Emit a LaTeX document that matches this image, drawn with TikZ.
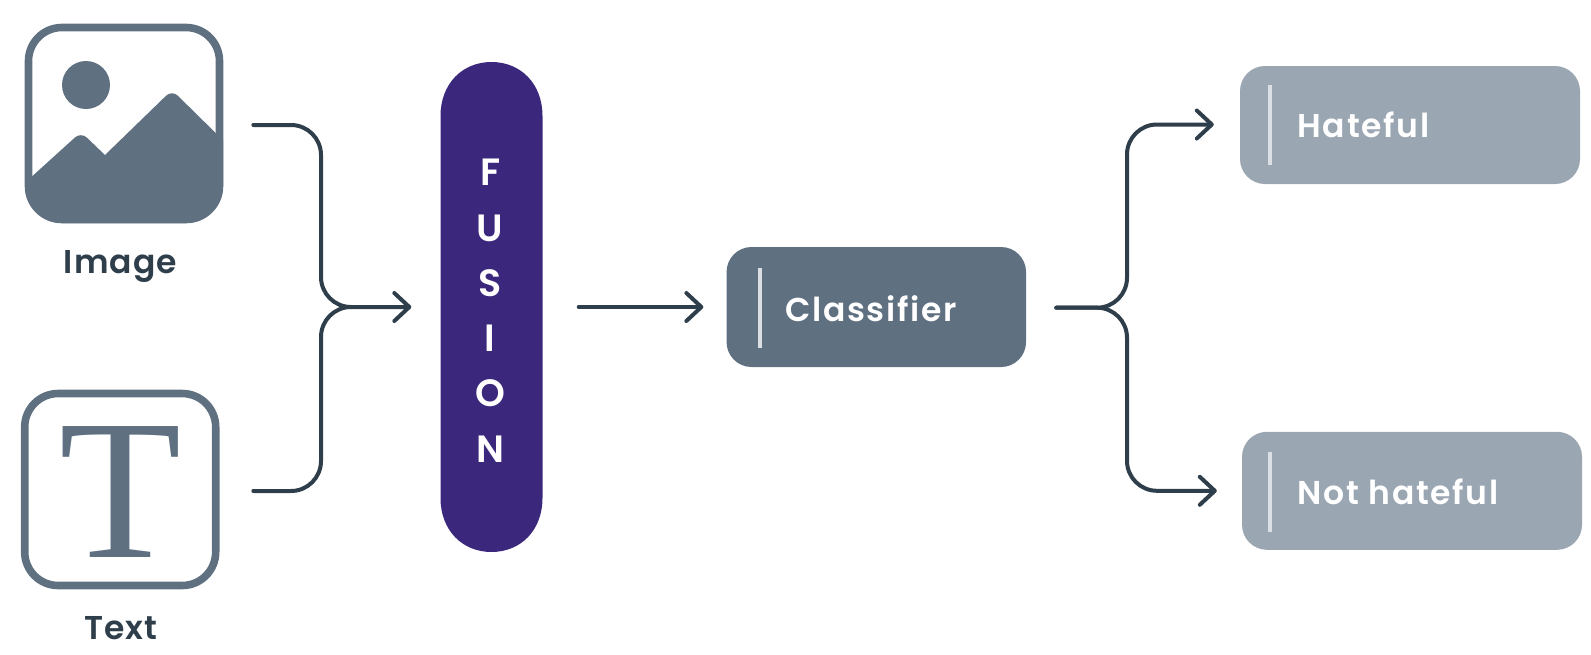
\documentclass[tikz,border=0pt]{standalone}
\usepackage{fontspec}
\setmainfont{Liberation Serif}
\newfontfamily\labfont[LetterSpace=3.5]{Poppins SemiBold}
\newfontfamily\whitefont[LetterSpace=5]{Poppins SemiBold}
\newfontfamily\fusfont{Poppins SemiBold}
\newfontfamily\serifT{Liberation Serif}
\usetikzlibrary{arrows.meta}
\definecolor{slate}{HTML}{5F7081}
\definecolor{ink}{HTML}{2F3E4B}
\definecolor{royal}{HTML}{3B287C}
\definecolor{haze}{HTML}{9BA6B3}
\definecolor{barc}{HTML}{DCE0E5}
\tikzset{
  icon/.style={draw=slate,line width=7.6pt,rounded corners=33.5pt,inner sep=0pt,minimum width=191pt,minimum height=192pt},
  conn/.style={draw=ink,line width=4pt,line cap=round,rounded corners=30pt},
  tipped/.style={conn,-{Straight Barb[length=15pt,width=28pt,round]}},
  cls/.style={fill=slate,rounded corners=25pt,inner sep=0pt,minimum width=299.5pt,minimum height=120pt},
  res/.style={fill=haze,rounded corners=25pt,inner sep=0pt,minimum width=340pt,minimum height=118pt},
  vbar/.style={fill=barc,inner sep=0pt,minimum width=4pt},
  darklab/.style={text=ink,font=\labfont\fontsize{33}{33}\selectfont,anchor=base,inner sep=0pt},
  whitelab/.style={text=white,font=\whitefont\fontsize{33}{33}\selectfont,anchor=base west,inner sep=0pt},
  fus/.style={text=white,font=\fusfont\fontsize{38}{38}\selectfont,anchor=base,inner sep=0pt}
}
\begin{document}
\begin{tikzpicture}[x=1pt,y=-1pt]
\useasboundingbox (0,0) rectangle (1591,654);
% image icon
\begin{scope}
  \clip[rounded corners=37pt] (25,24) rectangle (223,223);
  \fill[slate] (25,182) -- (31.7,176.7) [rounded corners=8pt] -- (81,132) [sharp corners] -- (105,155) [rounded corners=8pt] -- (172,90) [sharp corners] -- (216.7,134) -- (223,140) -- (223,223) -- (25,223) -- cycle;
\end{scope}
\node[icon] (imgicon) at (124,123.5) {};
\fill[slate] (86,85) circle (24pt);
\node[darklab] (imglab) at (120.5,273) {Image};
% text icon
\node[icon] (txticon) at (120.2,489.5) {};
\node[text=slate,font=\serifT\fontsize{200}{200}\selectfont,anchor=base,inner sep=0pt] (txtglyph) at (120.5,557) {T};
\node[darklab] (txtlab) at (121,639) {Text};
% fusion
\fill[royal] (440.5,116) .. controls (440.5,84) and (462,62) .. (491.5,62) .. controls (521,62) and (542.5,84) .. (542.5,116) -- (542.5,498) .. controls (542.5,530) and (521,552) .. (491.5,552) .. controls (462,552) and (440.5,530) .. (440.5,498) -- cycle;
\node[inner sep=0pt,minimum width=102pt,minimum height=490pt] (fusion) at (491.5,307) {};
\foreach \ltr/\yy/\nm in {F/185.7/fa,U/241/fb,S/296/fc,I/351/fd,O/406.5/fe,N/462/ff}
  \node[fus] (\nm) at (490.2,\yy) {\ltr};
% classifier
\node[cls] (classifier) at (876.3,307) {};
\node[vbar,minimum height=80pt] (clsbar) at (760,308) {};
\node[whitelab] (clslab) at (785,321.7) {Classifier};
% results
\node[res] (hateful) at (1410,125) {};
\node[vbar,minimum height=80pt] (hbar) at (1269.5,125) {};
\node[whitelab] (hlab) at (1297.5,137.3) {Hateful};
\node[res] (nothateful) at (1412,490.8) {};
\node[vbar,minimum height=80pt] (nbar) at (1270,492) {};
\node[whitelab] (nlab) at (1297.5,504) {Not hateful};
% connectors
\coordinate (s1) at ([xshift=30pt]imgicon.east |- 0,125);
\coordinate (s2) at ([xshift=30pt]imgicon.east |- 0,491);
\coordinate (bendL) at (321,307);
\coordinate (mergeTip) at ([xshift=-29pt]fusion.west);
\draw[tipped] (s1) -| (bendL) -- (mergeTip);
\draw[conn] (s2) -| (bendL) -- ([xshift=-60pt]mergeTip);
\draw[tipped,rounded corners=0pt] ([xshift=36pt]fusion.east) -- ([xshift=-23pt]classifier.west);
\coordinate (bendR) at (1127,307.7);
\coordinate (s3) at ([xshift=30pt]classifier.east |- bendR);
\draw[tipped] (s3) -- (bendR) |- ([xshift=-26pt,yshift=0.5pt]hateful.west);
\draw[tipped] (s3) -- (bendR) |- ([xshift=-25pt]nothateful.west);
\end{tikzpicture}
\end{document}
